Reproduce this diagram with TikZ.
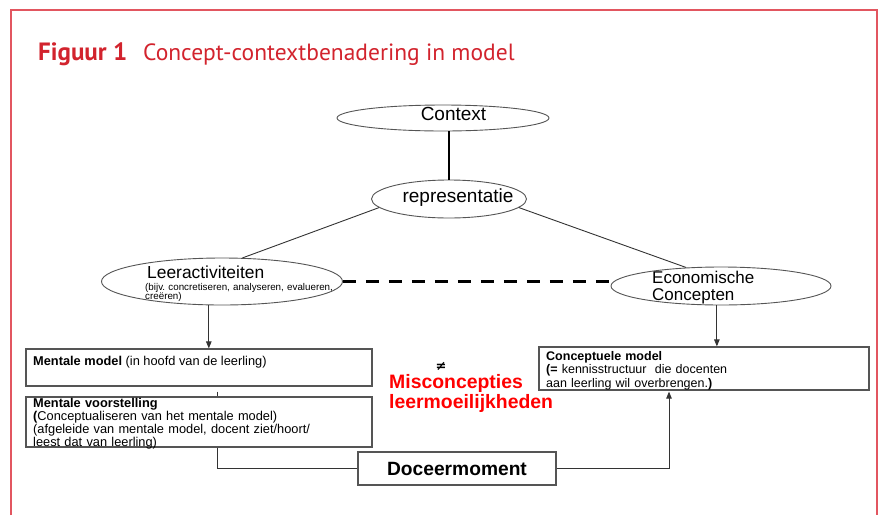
\documentclass[tikz,border=0pt]{standalone}
\usepackage{fontspec}
\setmainfont{Liberation Sans}
\newfontfamily\titlefont{PT Sans}
\newfontfamily\symfont{DejaVu Sans}
\usepackage{tikz}
\usetikzlibrary{shapes.geometric, arrows.meta, positioning}
\definecolor{framered}{RGB}{226,86,96}
\definecolor{titlered}{RGB}{210,35,45}
\definecolor{misred}{RGB}{255,0,0}
\definecolor{edgegray}{RGB}{85,85,85}
\frenchspacing

\begin{document}
\begin{tikzpicture}[
  x=1pt, y=-1pt,
  oval/.style={ellipse, draw=edgegray, line width=0.9pt, fill=white, inner sep=0pt},
  box/.style={rectangle, draw=edgegray, line width=1.2pt, fill=white, inner sep=0pt},
  txt/.style={inner sep=0pt, align=left},
  link/.style={draw=black!80, line width=0.9pt},
  arrow/.style={link, -{Triangle[length=7pt,width=5.5pt]}},
  dashline/.style={line width=2.6pt, dash pattern=on 13pt off 10pt},
  thickline/.style={line width=2.6pt}
]
  \useasboundingbox (0,0) rectangle (881,515);
  % frame and title
  \draw[framered, line width=1.3pt] (11,515) -- (11,10) -- (877,10) -- (877,515);
  \node[txt, anchor=base west, text=titlered, font=\titlefont\fontsize{23.5}{28}\selectfont] (title) at (38,60)
    {{\fontsize{25}{28}\selectfont\textbf{Figuur 1}}\hspace{16pt}Concept-contextbenadering in model};

  % ellipses
  \node[oval, minimum width=212, minimum height=26] (context) at (443,118) {};
  \node[oval, minimum width=155, minimum height=38] (repr) at (449,199) {};
  \node[oval, minimum width=241, minimum height=47] (leer) at (222,281.5) {};
  \node[oval, minimum width=220, minimum height=38] (econ) at (721,286) {};

  \node[txt, anchor=base, font=\fontsize{19}{22}\selectfont] (contexttxt) at (453.5,120) {Context};
  \node[txt, anchor=base, font=\fontsize{19}{22}\selectfont] (reprtxt) at (458,202) {representatie};
  \node[txt, anchor=base west, font=\fontsize{17.4}{20}\selectfont] (leertxt) at (147,278) {Leeractiviteiten};
  \node[txt, anchor=base west, text width=200, font=\fontsize{9.8}{9.5}\selectfont] (leernote) at (145,290)
    {(bijv. concretiseren, analyseren, evalueren,\\ creëren)};
  \node[txt, anchor=base west, text width=150, font=\fontsize{17}{17}\selectfont] (econtxt) at (652,283)
    {Economische\\ Concepten};

  % boxes
  \node[box, minimum width=346, minimum height=37] (mm) at (199,367.5) {};
  \node[box, minimum width=346, minimum height=50] (mv) at (199,422) {};
  \node[box, minimum width=330, minimum height=43] (cm) at (704,368.5) {};
  \node[box, minimum width=198, minimum height=33, font=\bfseries\fontsize{19.2}{22}\selectfont] (doceer) at (457,468.5) {Doceermoment};

  \node[txt, anchor=base west, font=\fontsize{12.8}{13.4}\selectfont] (mmtxt) at (33,365)
    {\textbf{Mentale model} (in hoofd van de leerling)};
  \node[txt, anchor=base west, text width=330, font=\fontsize{12.8}{13.3}\selectfont] (mvtxt) at (33,407)
    {\textbf{Mentale voorstelling}\\ \textbf{(}Conceptualiseren van het mentale model)\\ (afgeleide van mentale model, docent ziet/hoort/\\ leest dat van leerling)};
  \node[txt, anchor=base west, text width=320, font=\fontsize{12.5}{13.5}\selectfont] (cmtxt) at (546,360)
    {\textbf{Conceptuele model}\\ \textbf{(=} kennisstructuur\ \ die docenten\\ aan leerling wil overbrengen.\textbf{)}};

  \node[txt, anchor=base west, text width=200, text=misred, font=\bfseries\fontsize{19.4}{20}\selectfont] (mis) at (389,388)
    {Misconcepties\\ leermoeilijkheden};
  \node[txt, font=\symfont\bfseries\fontsize{13}{15}\selectfont] (neq) at (441,366.5) {≠};

  % connectors
  \draw[thickline] (repr.north) -- (repr.north |- context.south);
  \draw[link] (repr.187) -- (leer.49);
  \draw[link] (repr.353) -- (econ.152);
  \draw[dashline] (leer.east) -- (leer.east -| econ.west);
  \draw[arrow] (leer.241) -- (leer.241 |- mm.north);
  \draw[arrow] (econ.258) -- (econ.258 |- cm.north);
  \draw[link] ([xshift=18pt, yshift=-5pt]mm.south) -- ([xshift=18pt]mv.north);
  \draw[link] ([xshift=18pt]mv.south) |- (doceer.west);
  \draw[arrow] (doceer.east) -| ([xshift=-35pt, yshift=-1pt]cm.south);
\end{tikzpicture}
\end{document}
